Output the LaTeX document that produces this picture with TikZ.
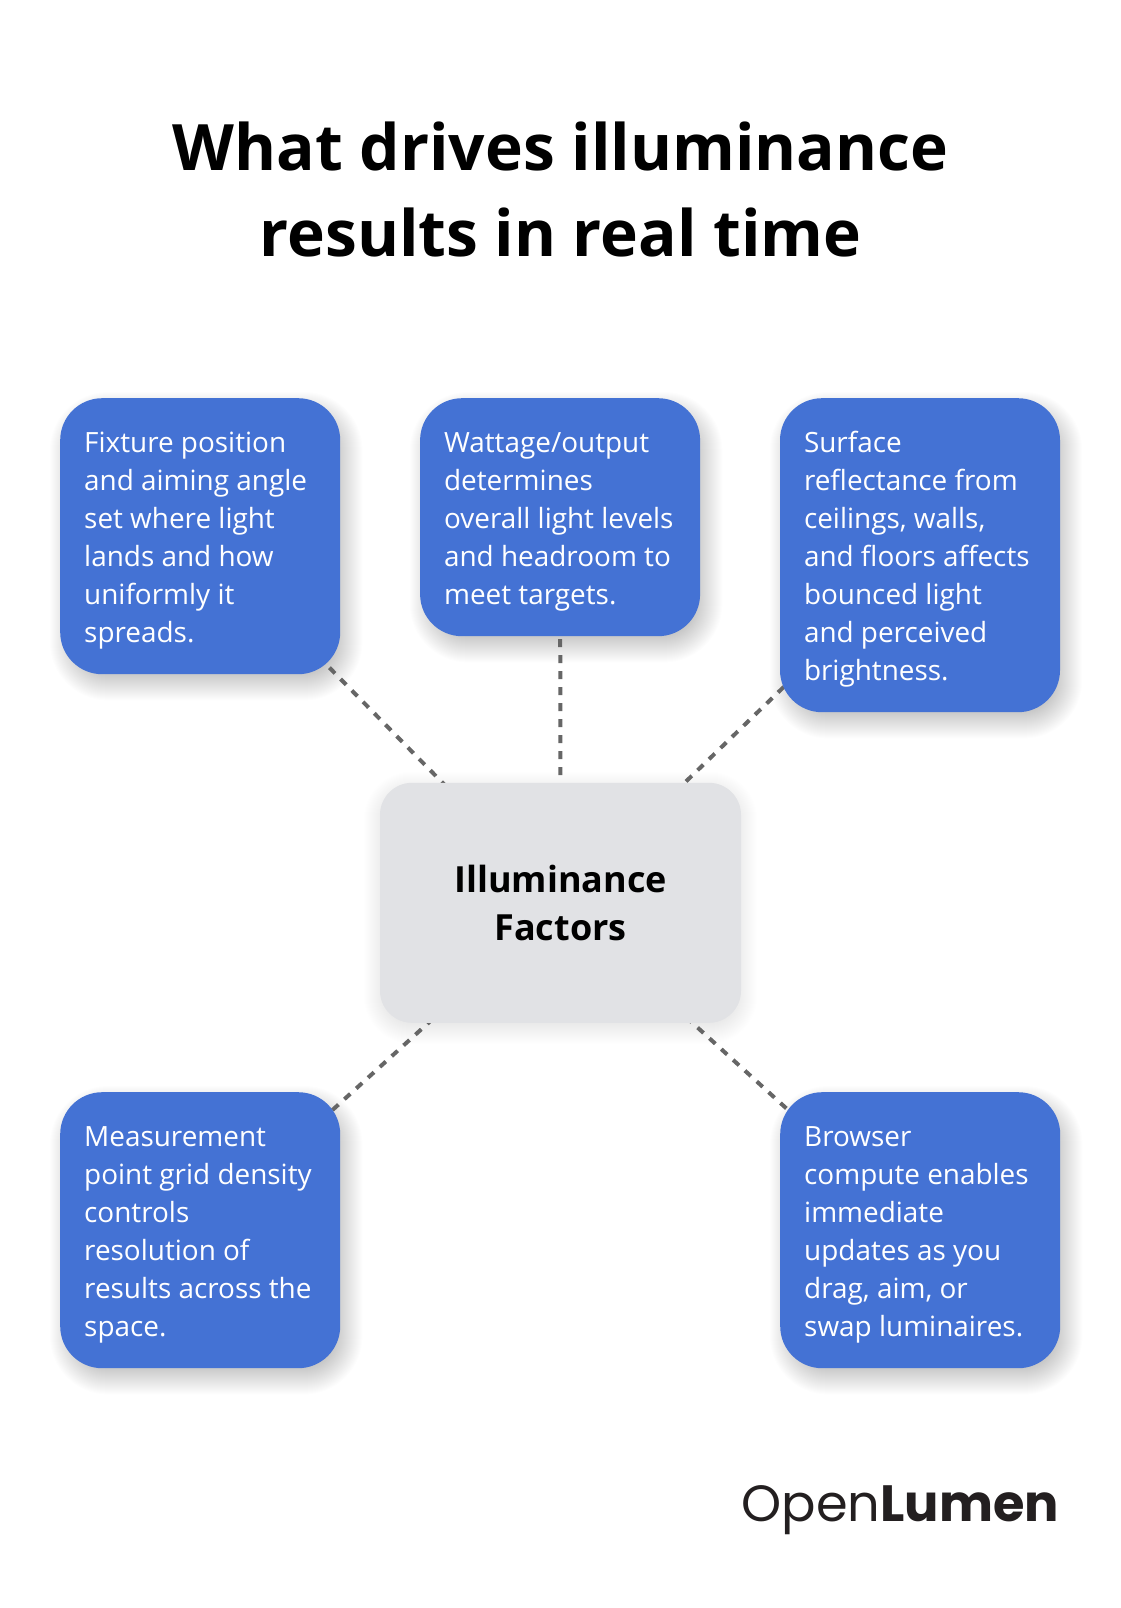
\documentclass[tikz,border=0pt]{standalone}
\usepackage{fontspec}
\setmainfont{Open Sans}
\newfontfamily\logolight{Poppins}
\newfontfamily\logobold{Poppins}[UprightFont=* Bold]
\usetikzlibrary{backgrounds, positioning}
\definecolor{factorblue}{HTML}{4472D4}
\definecolor{hubgray}{HTML}{E1E2E5}
\definecolor{linkgray}{HTML}{666666}
\definecolor{logoink}{HTML}{231F20}
\tikzset{
    factor/.style={
        fill=factorblue,
        text=white,
        rounded corners=42pt,
        minimum width=280pt,
        text width=232pt,
        inner sep=0pt,
        align=flush left,
        execute at begin node=\rule{0pt}{30pt},
        execute at end node=\rule[-8pt]{0pt}{0pt},
        font=\fontsize{27.9}{38}\selectfont
    },
    hub/.style={
        fill=hubgray,
        rounded corners=32pt,
        minimum width=361pt,
        minimum height=240pt,
        align=center,
        font=\fontsize{36}{48}\selectfont\bfseries
    },
    link/.style={draw=linkgray, line width=4pt, dash pattern=on 8pt off 8pt}
}
\newcommand{\softshadow}[5]{% node, dx, dy, radius, opacity
    \foreach \s in {-14,-13,...,16} {
        \pgfmathsetmacro{\rr}{max(#4+\s,4)}
        \fill[black, fill opacity=#5, rounded corners=\rr pt]
            ([shift={({#2-\s},{#3+\s})}]#1.south west) rectangle
            ([shift={({#2+\s},{#3-\s})}]#1.north east);
    }
}

\begin{document}
\begin{tikzpicture}[x=1pt, y=-1pt, node distance = 79.5pt and 79.5pt]
\useasboundingbox (0,0) rectangle (1120,1608);

\node[align=center, font=\fontsize{64}{86}\selectfont\bfseries] (title) at (560.5,189.5)
    {What drives illuminance\\results in real time};

\node[factor, minimum height=276pt, anchor=north west] (fixture) at (60,398)
    {Fixture position\\and aiming angle\\set where light\\lands and how\\uniformly it\\spreads.};
\node[factor, minimum height=238pt, right=of fixture.north east, anchor=north west] (wattage)
    {Wattage/output\\determines\\overall light levels\\and headroom to\\meet targets.};
\node[factor, minimum height=314pt, right=of wattage.north east, anchor=north west] (surface)
    {Surface\\reflectance from\\ceilings, walls,\\and floors affects\\bounced light\\and perceived\\brightness.};
\node[hub] (center) at (560.5,902.8) {Illuminance\\Factors};
\node[factor, minimum height=276pt, anchor=north west] (grid) at (60,1092)
    {Measurement\\point grid density\\controls\\resolution of\\results across the\\space.};
\node[factor, minimum height=276pt, anchor=north west] (browser) at (780,1092)
    {Browser\\compute enables\\immediate\\updates as you\\drag, aim, or\\swap luminaires.};

\node[anchor=base east, inner sep=0pt, text=logoink, font=\fontsize{51}{51}\selectfont] (logo) at (1059,1521)
    {\logolight Open\logobold Lumen};

\scoped[on background layer]{
    \foreach \n in {fixture, wattage, surface, grid, browser}
        \softshadow{\n}{6}{10}{42}{.007};
    \softshadow{center}{0}{5}{32}{.005};
    \draw[link, dash phase=7.7pt]  (fixture.center) -- (center.center);
    \draw[link, dash phase=6pt]    (wattage.center) -- (center.center);
    \draw[link, dash phase=2.6pt]  (surface.center) -- (center.center);
    \draw[link, dash phase=13.2pt] (grid.center) -- (center.center);
    \draw[link, dash phase=11pt]   (browser.center) -- (center.center);
}
\end{tikzpicture}
\end{document}
